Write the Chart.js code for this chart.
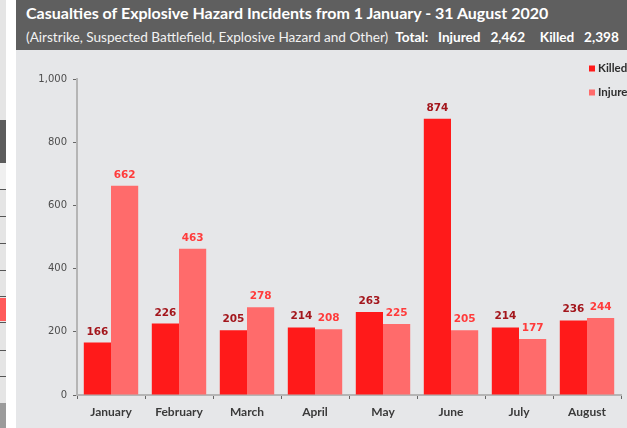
<!DOCTYPE html>
<html>
<head>
<meta charset="utf-8">
<script src="https://cdn.jsdelivr.net/npm/chart.js@4.4.1/dist/chart.umd.min.js"></script>
<style>
  html, body { margin: 0; padding: 0; }
  body { width: 627px; height: 428px; overflow: hidden; position: relative; background: #fff; font-family: Lato, "DejaVu Sans", sans-serif; }
  #strip { position: absolute; left: 0; top: 0; width: 6px; height: 428px; background: #e5e5e5; }
  .blk { position: absolute; left: 0; width: 6px; }
  .ln { position: absolute; left: 0; width: 6px; height: 1px; background: #555; }
  #panel { position: absolute; left: 16px; top: 0; width: 611px; height: 428px; background: #e6e7e9; }
  #head { position: absolute; left: 0; top: 0; width: 611px; height: 50px; background: #5f5f5f; color: #fff; }
  #title { position: absolute; left: 10px; top: 3px; font-weight: 700; font-size: 16px; white-space: nowrap; }
  #sub { position: absolute; left: 10px; top: 29px; font-size: 13.6px; white-space: nowrap; color: #f2f2f2; }
  #sub b { color: #fff; word-spacing: 1.6px; }
  #wrap { position: absolute; left: 0; top: 50px; width: 611px; height: 378px; }
</style>
</head>
<body>
<div id="strip">
  <div class="blk" style="top:120px;height:43px;background:#5c5c5c"></div>
  <div class="blk" style="top:163px;height:27px;background:#f0f0f0"></div>
  <div class="ln" style="top:189px"></div>
  <div class="ln" style="top:216px"></div>
  <div class="ln" style="top:243px"></div>
  <div class="ln" style="top:270px"></div>
  <div class="ln" style="top:296px"></div>
  <div class="blk" style="top:298px;height:23px;background:#ff5a5a"></div>
  <div class="ln" style="top:322px"></div>
  <div class="ln" style="top:350px"></div>
  <div class="ln" style="top:376px"></div>
  <div class="blk" style="top:403px;height:25px;background:#9b9b9b"></div>
</div>
<div id="panel">
  <div id="head">
    <div id="title">Casualties of Explosive Hazard Incidents from 1 January - 31 August 2020</div>
    <div id="sub">(Airstrike, Suspected Battlefield, Explosive Hazard and Other)&nbsp; <b>Total:&nbsp; Injured&nbsp; 2,462&nbsp;&nbsp; Killed&nbsp; 2,398</b></div>
  </div>
  <div id="wrap"><canvas id="chart" width="611" height="378"></canvas></div>
</div>
<script>
'use strict';

const months = ['January', 'February', 'March', 'April', 'May', 'June', 'July', 'August'];
const killed = [166, 226, 205, 214, 263, 874, 214, 236];
const injured = [662, 463, 278, 208, 225, 205, 177, 244];
const yTicks = [0, 200, 400, 600, 800, 1000];

// value labels above each bar
const valueLabels = {
  id: 'valueLabels',
  afterDatasetsDraw(chart) {
    const ctx = chart.ctx;
    ctx.save();
    ctx.font = 'bold 10.5px "DejaVu Sans"';
    ctx.textAlign = 'center';
    ctx.textBaseline = 'alphabetic';
    chart.data.datasets.forEach((ds, i) => {
      ctx.fillStyle = ds.labelColor;
      chart.getDatasetMeta(i).data.forEach((bar, j) => {
        ctx.fillText(ds.data[j], bar.x, bar.y - 8);
      });
    });
    ctx.restore();
  },
};

// small legend sitting inside the top-right corner of the plot
const cornerLegend = {
  id: 'cornerLegend',
  afterDraw(chart) {
    const ctx = chart.ctx;
    const x = chart.chartArea.right - 32;
    ctx.save();
    ctx.font = 'bold 11.5px Lato';
    ctx.textBaseline = 'middle';
    chart.data.datasets.forEach((ds, i) => {
      const y = 18.5 + i * 24;
      ctx.fillStyle = ds.backgroundColor;
      ctx.fillRect(x, y - 3, 6, 6);
      ctx.fillStyle = '#2e2e2e';
      ctx.fillText(ds.label, x + 9, y);
    });
    ctx.restore();
  },
};

new Chart(document.getElementById('chart'), {
  type: 'bar',
  data: {
    labels: months,
    datasets: [
      { label: 'Killed', data: killed, backgroundColor: '#ff1a1a', labelColor: '#a3161c' },
      { label: 'Injured', data: injured, backgroundColor: '#ff6b6b', labelColor: '#ff3b3b' },
    ],
  },
  options: {
    responsive: false,
    animation: false,
    layout: { padding: { top: 29, right: 6, left: 0, bottom: 0 } },
    plugins: { legend: { display: false }, tooltip: { enabled: false } },
    datasets: { bar: { categoryPercentage: 0.8, barPercentage: 1 } },
    scales: {
      x: {
        grid: { drawOnChartArea: false, color: '#666', tickLength: 4 },
        border: { color: '#b5b5b5', width: 2 },
        ticks: { color: '#3a3a3a', font: { family: 'Lato', weight: 'bold', size: 12 }, padding: 6 },
        afterFit(s) { s.height = 33; },
      },
      y: {
        min: 0,
        max: 1000,
        afterBuildTicks(s) { s.ticks = yTicks.map(v => ({ value: v })); },
        grid: { drawOnChartArea: false, color: '#666', tickLength: 4 },
        border: { color: '#b5b5b5', width: 2 },
        ticks: { color: '#4d4d4d', font: { family: 'DejaVu Sans', size: 10 }, padding: 6, callback: v => v.toLocaleString('en-US') },
        afterFit(s) { s.width = 61; },
      },
    },
  },
  plugins: [valueLabels, cornerLegend],
});
</script>
</body>
</html>
